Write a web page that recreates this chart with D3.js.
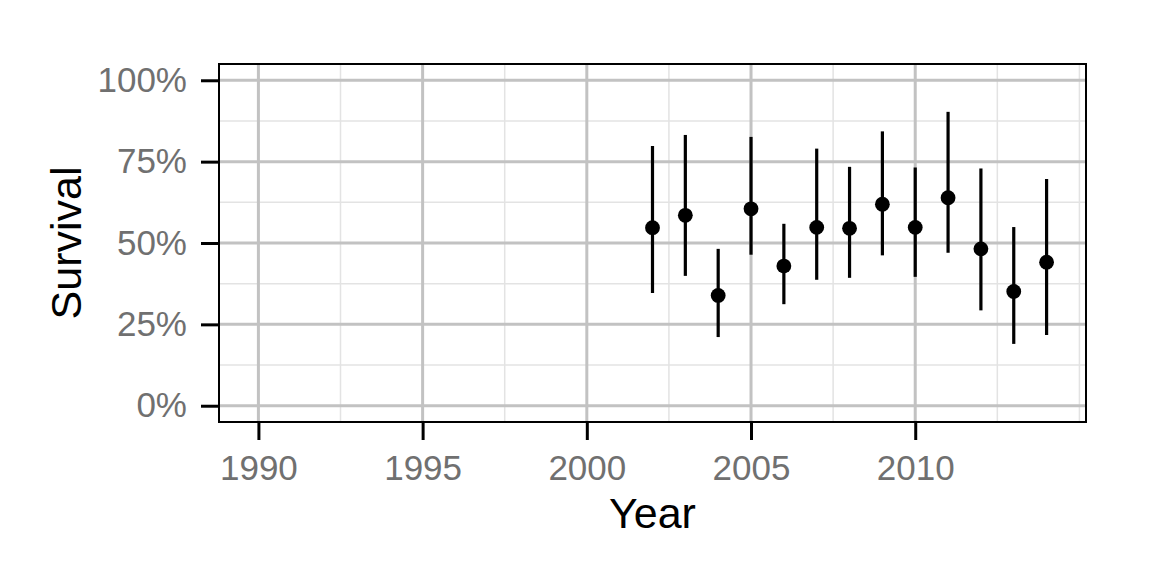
<!DOCTYPE html>
<html>
<head>
<meta charset="utf-8">
<script src="https://cdn.jsdelivr.net/npm/d3@7"></script>
<style>
  body { margin: 0; background: #fff; }
  svg text { font-family: "Liberation Sans", Arial, sans-serif; }
</style>
</head>
<body>
<svg id="chart"></svg>
<script>
// survival estimates by year, with lower / upper interval
const years = [2002, 2003, 2004, 2005, 2006, 2007, 2008, 2009, 2010, 2011, 2012, 2013, 2014]
const survival = [0.547, 0.585, 0.339, 0.605, 0.429, 0.548, 0.545, 0.619, 0.548, 0.639, 0.482, 0.351, 0.441]
const lower = [0.346, 0.399, 0.211, 0.464, 0.312, 0.387, 0.393, 0.462, 0.396, 0.470, 0.293, 0.190, 0.217]
const upper = [0.798, 0.832, 0.482, 0.826, 0.559, 0.790, 0.734, 0.843, 0.732, 0.903, 0.729, 0.549, 0.697]

const xTicks = [1990, 1995, 2000, 2005, 2010]
const xMinor = [1992.5, 1997.5, 2002.5, 2007.5, 2012.5, 2015]
const yTicks = [0, 0.25, 0.5, 0.75, 1]
const yMinor = [0.125, 0.375, 0.625, 0.875]

let W = 1152, H = 576
let m = {top: 64, left: 219, right: 66, bottom: 154}

let svg = d3.select('#chart')
    .attr('width', W)
    .attr('height', H)

let xScale = d3.scaleLinear().domain([1988.8, 2015.2]).range([m.left, W - m.right])
let yScale = d3.scaleLinear().domain([-0.05, 1.05]).range([H - m.bottom, m.top])

let data = years.map((y, i) => ({year: y, est: survival[i], lo: lower[i], hi: upper[i]}))

// minor grid
svg.append('g').selectAll('line')
    .data(xMinor).enter().append('line')
    .attr('x1', d => xScale(d)).attr('x2', d => xScale(d))
    .attr('y1', m.top).attr('y2', H - m.bottom)
    .attr('stroke', '#e3e3e3').attr('stroke-width', 1.5)
svg.append('g').selectAll('line')
    .data(yMinor).enter().append('line')
    .attr('y1', d => yScale(d)).attr('y2', d => yScale(d))
    .attr('x1', m.left).attr('x2', W - m.right)
    .attr('stroke', '#e3e3e3').attr('stroke-width', 1.5)

// major grid
svg.append('g').selectAll('line')
    .data(xTicks).enter().append('line')
    .attr('x1', d => xScale(d)).attr('x2', d => xScale(d))
    .attr('y1', m.top).attr('y2', H - m.bottom)
    .attr('stroke', '#c2c2c2').attr('stroke-width', 3)
svg.append('g').selectAll('line')
    .data(yTicks).enter().append('line')
    .attr('y1', d => yScale(d)).attr('y2', d => yScale(d))
    .attr('x1', m.left).attr('x2', W - m.right)
    .attr('stroke', '#c2c2c2').attr('stroke-width', 3)

// error bars
svg.append('g').selectAll('line')
    .data(data).enter().append('line')
    .attr('x1', d => xScale(d.year)).attr('x2', d => xScale(d.year))
    .attr('y1', d => yScale(d.lo)).attr('y2', d => yScale(d.hi))
    .attr('stroke', 'black').attr('stroke-width', 3.2)

// points
svg.append('g').selectAll('circle')
    .data(data).enter().append('circle')
    .attr('cx', d => xScale(d.year))
    .attr('cy', d => yScale(d.est))
    .attr('r', 7.4)
    .attr('fill', 'black')

// panel border
svg.append('rect')
    .attr('x', m.left).attr('y', m.top)
    .attr('width', W - m.left - m.right)
    .attr('height', H - m.top - m.bottom)
    .attr('fill', 'none').attr('stroke', 'black').attr('stroke-width', 2)

// axes
let xAxis = d3.axisBottom(xScale).tickValues(xTicks).tickFormat(d3.format('d'))
    .tickSize(18).tickPadding(15)
let yAxis = d3.axisLeft(yScale).tickValues(yTicks).tickFormat(d3.format('.0%'))
    .tickSize(18).tickPadding(14)

svg.append('g')
    .attr('transform', `translate(0, ${H - m.bottom})`)
    .call(xAxis)
    .call(g => g.select('.domain').remove())
    .call(g => g.selectAll('.tick line').attr('stroke', 'black').attr('stroke-width', 3))
    .call(g => g.selectAll('.tick text').attr('fill', '#707070').style('font-size', '35px'))

svg.append('g')
    .attr('transform', `translate(${m.left}, 0)`)
    .call(yAxis)
    .call(g => g.select('.domain').remove())
    .call(g => g.selectAll('.tick line').attr('stroke', 'black').attr('stroke-width', 3))
    .call(g => g.selectAll('.tick text').attr('fill', '#707070').style('font-size', '35px'))

// axis titles
svg.append('text')
    .attr('x', (m.left + W - m.right) / 2)
    .attr('y', 528)
    .attr('text-anchor', 'middle')
    .style('font-size', '43px')
    .text('Year')

svg.append('text')
    .attr('transform', `translate(81, ${(m.top + H - m.bottom) / 2}) rotate(-90)`)
    .attr('text-anchor', 'middle')
    .style('font-size', '43px')
    .text('Survival')
</script>
</body>
</html>
